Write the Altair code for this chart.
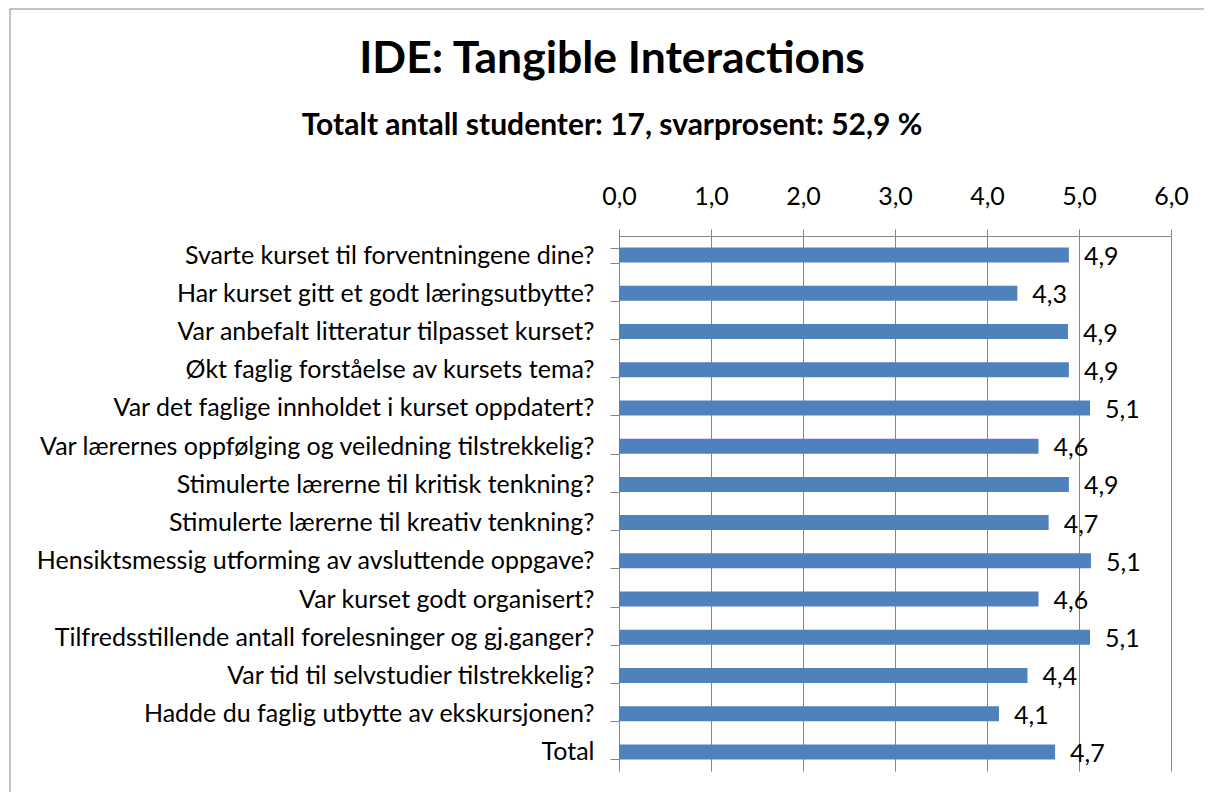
import altair as alt
import pandas as pd

questions = [
    "Svarte kurset til forventningene dine?",
    "Har kurset gitt et godt læringsutbytte?",
    "Var anbefalt litteratur tilpasset kurset?",
    "Økt faglig forståelse av kursets tema?",
    "Var det faglige innholdet i kurset oppdatert?",
    "Var lærernes oppfølging og veiledning tilstrekkelig?",
    "Stimulerte lærerne til kritisk tenkning?",
    "Stimulerte lærerne til kreativ tenkning?",
    "Hensiktsmessig utforming av avsluttende oppgave?",
    "Var kurset godt organisert?",
    "Tilfredsstillende antall forelesninger og gj.ganger?",
    "Var tid til selvstudier tilstrekkelig?",
    "Hadde du faglig utbytte av ekskursjonen?",
    "Total",
]
scores = [4.89, 4.33, 4.88, 4.89, 5.12, 4.56, 4.89, 4.67, 5.13, 4.56, 5.12, 4.44, 4.13, 4.74]

title_text = "IDE: Tangible Interactions"
subtitle_text = "Totalt antall studenter: 17, svarprosent: 52,9 %"

df = pd.DataFrame({"q": questions, "v": scores})
df["lbl"] = [f"{s:.1f}".replace(".", ",") for s in scores]

FONT = "Lato"
GRAY = "#868686"
BLUE = "#4F81BD"
FS = 25

y_enc = alt.Y(
    "q:N",
    sort=questions,
    title=None,
    scale=alt.Scale(paddingInner=0.607, paddingOuter=0.3035),
    axis=alt.Axis(
        orient="left",
        labelFont=FONT,
        labelFontSize=FS,
        labelColor="black",
        labelPadding=16,
        labelLimit=800,
        tickSize=9,
        tickColor=GRAY,
        domainColor=GRAY,
        tickBand="extent",
        grid=False,
    ),
)

x_enc = alt.X(
    "v:Q",
    title=None,
    scale=alt.Scale(domain=[0, 6], nice=False, zero=True),
    axis=alt.Axis(
        orient="top",
        values=[0, 1, 2, 3, 4, 5, 6],
        labelExpr="replace(format(datum.value, '.1f'), '.', ',')",
        labelFont=FONT,
        labelFontSize=FS,
        labelColor="black",
        labelPadding=20,
        labelFlush=False,
        labelOverlap=False,
        tickSize=7,
        tickColor=GRAY,
        domainColor=GRAY,
        grid=True,
        gridColor=GRAY,
        gridOpacity=1,
        gridWidth=1,
    ),
)

bars = alt.Chart(df).mark_bar(color=BLUE).encode(x=x_enc, y=y_enc)

labels = alt.Chart(df).mark_text(
    align="left", baseline="middle", dx=15, dy=2, font=FONT, fontSize=FS, color="black"
).encode(x="v:Q", y=alt.Y("q:N", sort=questions), text="lbl:N")

frame_df = pd.DataFrame({"k": [0]})
left_edge = alt.Chart(frame_df).mark_rule(color=GRAY, strokeWidth=1).encode(
    x=alt.value(-609), y=alt.value(-227), y2=alt.value(556)
)
top_edge = alt.Chart(frame_df).mark_rule(color=GRAY, strokeWidth=1).encode(
    x=alt.value(-609), x2=alt.value(585), y=alt.value(-227)
)

chart = (
    alt.layer(bars, labels, left_edge, top_edge)
    .properties(
        width=552,
        height=535,
        padding={"left": 1, "top": 0, "right": 0, "bottom": 0},
        title=alt.TitleParams(
            text=title_text,
            subtitle=subtitle_text,
            font=FONT,
            fontSize=44.5,
            fontWeight="bold",
            color="black",
            subtitleFont=FONT,
            subtitleFontSize=30,
            subtitleFontWeight="bold",
            subtitleColor="black",
            subtitlePadding=28,
            anchor="middle",
            frame="bounds",
            offset=-133,
            dx=5,
        ),
    )
    .configure_view(stroke=None)
    .configure_axis(domainWidth=1, tickWidth=1)
)

chart.save("out.html", embed_options={"renderer": "svg", "actions": False})
